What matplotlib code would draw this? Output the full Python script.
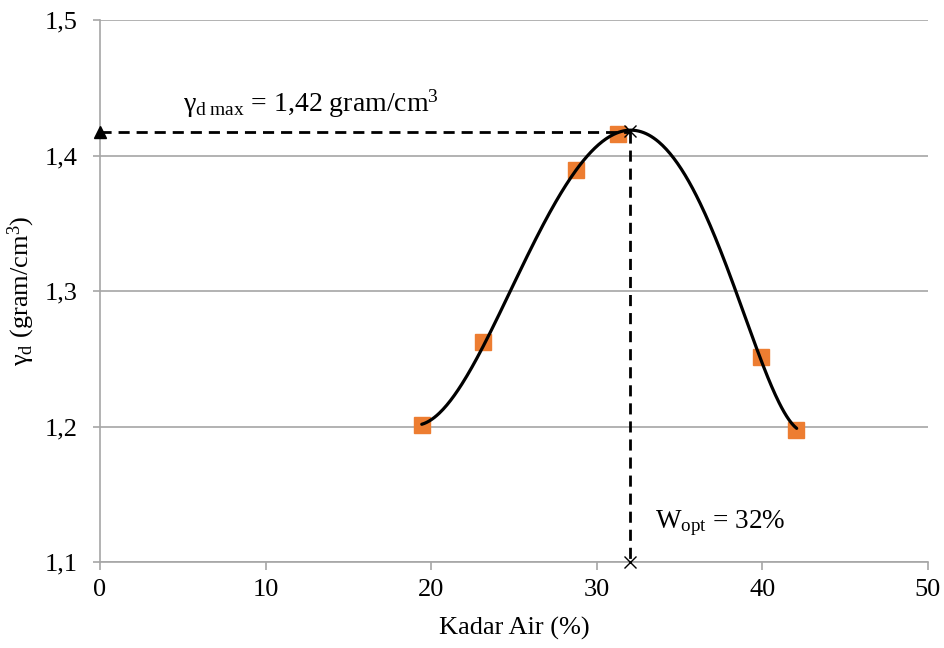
import numpy as np
import matplotlib
matplotlib.use("Agg")
import matplotlib.pyplot as plt

plt.rcParams["font.family"] = ["Liberation Serif", "DejaVu Serif"]
plt.rcParams["mathtext.fontset"] = "custom"
plt.rcParams["mathtext.rm"] = "Liberation Serif"
plt.rcParams["mathtext.it"] = "Liberation Serif:italic"

# measured points
kadar_air = [19.45, 23.1, 28.75, 31.3, 39.9, 42.05]
gamma_d = [1.201, 1.262, 1.389, 1.416, 1.2515, 1.1974]

# smooth compaction curve
curve_x = [19.43, 20.73, 21.94, 23.15, 23.95, 24.76, 25.77, 26.77, 27.78, 28.79,
           29.79, 30.80, 31.81, 32.00, 33.41, 34.62, 35.63, 36.64, 37.44, 38.35,
           39.25, 40.05, 41.06, 42.07]
curve_y = [1.2011, 1.2146, 1.2319, 1.2589, 1.2786, 1.2995, 1.3253, 1.3500, 1.3721, 1.3893,
           1.4041, 1.4139, 1.4181, 1.4183, 1.4127, 1.3991, 1.3795, 1.3549, 1.3327, 1.2995,
           1.2688, 1.2442, 1.2196, 1.1974]

w_opt = 32.0
gd_max = 1.417

x_ticks = [0, 10, 20, 30, 40, 50]
y_ticks = [1.1, 1.2, 1.3, 1.4, 1.5]
y_ticklabels = ["1,1", "1,2", "1,3", "1,4", "1,5"]

grey = "#A6A6A6"

fig = plt.figure(figsize=(9.45, 6.48), dpi=100)
ax = fig.add_axes([100 / 945, 1 - 562 / 648, 828 / 945, 542 / 648])

ax.set_xlim(0, 50)
ax.set_ylim(1.1, 1.5)
ax.set_xticks(x_ticks)
ax.set_yticks(y_ticks)
ax.set_yticklabels(y_ticklabels)
ax.tick_params(axis="both", labelsize=19, color=grey, width=1.2, direction="out")
ax.tick_params(axis="y", length=5, pad=11)
ax.tick_params(axis="x", length=6, pad=6.5)
ax.grid(axis="y", color=grey, linewidth=1.2)
ax.set_axisbelow(True)
for s in ["top", "right"]:
    ax.spines[s].set_visible(False)
for s in ["left", "bottom"]:
    ax.spines[s].set_color(grey)
    ax.spines[s].set_linewidth(1.2)

# smoothed curve (least squares fit of the traced line)
fit = np.polynomial.Polynomial.fit(curve_x, curve_y, 7)
xx = np.linspace(curve_x[0], curve_x[-1], 300)
ax.plot(xx, fit(xx), color="black", linewidth=2.3, solid_capstyle="round", zorder=4)

ax.plot(kadar_air, gamma_d, linestyle="none", marker="s", markersize=12,
        color="#ED7D31", zorder=3)

# guide lines
ax.plot([0, w_opt], [gd_max, gd_max], color="black", linestyle=(0, (4, 2.5)), linewidth=2, zorder=5)
ax.plot([w_opt, w_opt], [gd_max, 1.1], color="black", linestyle=(0, (4, 2.5)), linewidth=2, zorder=5)
ax.plot([0], [gd_max], marker="^", color="black", markersize=9, clip_on=False, zorder=6)
ax.plot([w_opt, w_opt], [1.418, 1.1], linestyle="none", marker="x", color="black",
        markersize=9, markeredgewidth=1, clip_on=False, zorder=6)

ax.text(5.0, 1.438, r"γ$_{\mathrm{d\ max}}$ = 1,42 gram/cm$^{3}$", fontsize=20,
        ha="left", va="center")
ax.text(33.5, 1.129, r"W$_{\mathrm{opt}}$ = 32%", fontsize=19.5, ha="left", va="center")

ax.set_xlabel("Kadar Air (%)", fontsize=19)
ax.set_ylabel(r"γ$_{\mathrm{d}}$ (gram/cm$^{3}$)", fontsize=19)
ax.yaxis.set_label_coords(-0.076, 0.5)
ax.xaxis.set_label_coords(0.5, -0.101)

fig.savefig("out.png", dpi=100)
